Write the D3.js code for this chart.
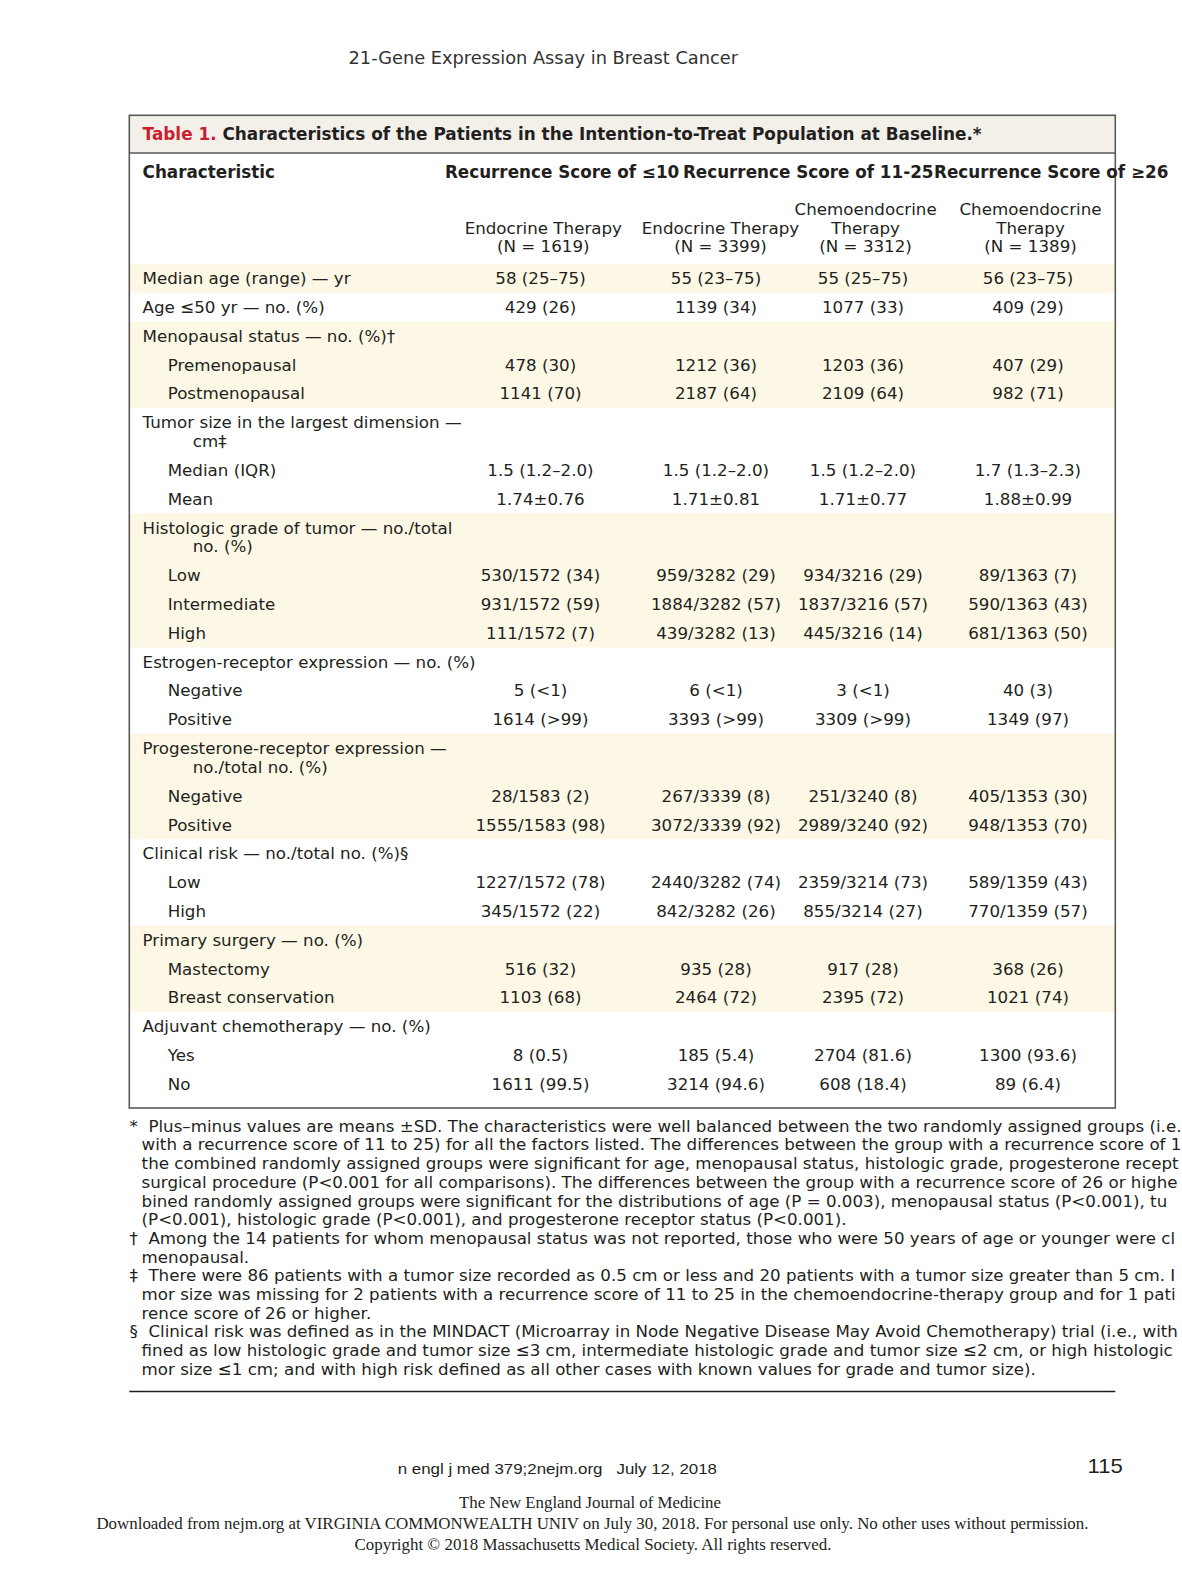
<!DOCTYPE html>
<html><head><meta charset="utf-8">
<script src="https://cdn.jsdelivr.net/npm/d3@7"></script>
<style>
html,body{margin:0;padding:0;background:#fff;overflow:hidden}
svg{display:block}
text{font-family:"DejaVu Sans",sans-serif;fill:#231f20}
</style></head><body><svg id="c" width="1182" height="1575"></svg>
<script>
// ---------- data ----------
const runningHead = "21-Gene Expression Assay in Breast Cancer";
const tableTitleLabel = "Table 1.";
const tableTitle = "Characteristics of the Patients in the Intention-to-Treat Population at Baseline.*";
const stubHeader = "Characteristic";
const groupHeaders = ["Recurrence Score of ≤10", "Recurrence Score of 11-25", "Recurrence Score of ≥26"];
const columnHeaders = [
  ["Endocrine Therapy", "(N = 1619)"],
  ["Endocrine Therapy", "(N = 3399)"],
  ["Chemoendocrine", "Therapy", "(N = 3312)"],
  ["Chemoendocrine", "Therapy", "(N = 1389)"]
];
const rowLabels = [
  ["Median age (range) — yr"], ["Age ≤50 yr — no. (%)"], ["Menopausal status — no. (%)†"],
  ["Premenopausal"], ["Postmenopausal"],
  ["Tumor size in the largest dimension —", "cm‡"], ["Median (IQR)"], ["Mean"],
  ["Histologic grade of tumor — no./total", "no. (%)"], ["Low"], ["Intermediate"], ["High"],
  ["Estrogen-receptor expression — no. (%)"], ["Negative"], ["Positive"],
  ["Progesterone-receptor expression —", "no./total no. (%)"], ["Negative"], ["Positive"],
  ["Clinical risk — no./total no. (%)§"], ["Low"], ["High"],
  ["Primary surgery — no. (%)"], ["Mastectomy"], ["Breast conservation"],
  ["Adjuvant chemotherapy — no. (%)"], ["Yes"], ["No"]
];
const rowLevels = [0,0,0,1,1,0,1,1,0,1,1,1,0,1,1,0,1,1,0,1,1,0,1,1,0,1,1];
const rowShaded = [1,0,1,1,1,0,0,0,1,1,1,1,0,0,0,1,1,1,0,0,0,1,1,1,0,0,0];
const lowScoreEndocrine = ["58 (25–75)","429 (26)","","478 (30)","1141 (70)","","1.5 (1.2–2.0)","1.74±0.76","","530/1572 (34)","931/1572 (59)","111/1572 (7)","","5 (<1)","1614 (>99)","","28/1583 (2)","1555/1583 (98)","","1227/1572 (78)","345/1572 (22)","","516 (32)","1103 (68)","","8 (0.5)","1611 (99.5)"];
const midScoreEndocrine = ["55 (23–75)","1139 (34)","","1212 (36)","2187 (64)","","1.5 (1.2–2.0)","1.71±0.81","","959/3282 (29)","1884/3282 (57)","439/3282 (13)","","6 (<1)","3393 (>99)","","267/3339 (8)","3072/3339 (92)","","2440/3282 (74)","842/3282 (26)","","935 (28)","2464 (72)","","185 (5.4)","3214 (94.6)"];
const midScoreChemo = ["55 (25–75)","1077 (33)","","1203 (36)","2109 (64)","","1.5 (1.2–2.0)","1.71±0.77","","934/3216 (29)","1837/3216 (57)","445/3216 (14)","","3 (<1)","3309 (>99)","","251/3240 (8)","2989/3240 (92)","","2359/3214 (73)","855/3214 (27)","","917 (28)","2395 (72)","","2704 (81.6)","608 (18.4)"];
const highScoreChemo = ["56 (23–75)","409 (29)","","407 (29)","982 (71)","","1.7 (1.3–2.3)","1.88±0.99","","89/1363 (7)","590/1363 (43)","681/1363 (50)","","40 (3)","1349 (97)","","405/1353 (30)","948/1353 (70)","","589/1359 (43)","770/1359 (57)","","368 (26)","1021 (74)","","1300 (93.6)","89 (6.4)"];
const footnoteSymbols = ["*", "†", "‡", "§"];
const footnoteLines = [
  ["Plus–minus values are means ±SD. The characteristics were well balanced between the two randomly assigned groups (i.e., those",
   "with a recurrence score of 11 to 25) for all the factors listed. The differences between the group with a recurrence score of 10 or lower and",
   "the combined randomly assigned groups were significant for age, menopausal status, histologic grade, progesterone receptor status, and",
   "surgical procedure (P<0.001 for all comparisons). The differences between the group with a recurrence score of 26 or higher and the com-",
   "bined randomly assigned groups were significant for the distributions of age (P = 0.003), menopausal status (P<0.001), tumor size",
   "(P<0.001), histologic grade (P<0.001), and progesterone receptor status (P<0.001)."],
  ["Among the 14 patients for whom menopausal status was not reported, those who were 50 years of age or younger were classified as pre-",
   "menopausal."],
  ["There were 86 patients with a tumor size recorded as 0.5 cm or less and 20 patients with a tumor size greater than 5 cm. Information on tu-",
   "mor size was missing for 2 patients with a recurrence score of 11 to 25 in the chemoendocrine-therapy group and for 1 patient with a recur-",
   "rence score of 26 or higher."],
  ["Clinical risk was defined as in the MINDACT (Microarray in Node Negative Disease May Avoid Chemotherapy) trial (i.e., with low risk de-",
   "fined as low histologic grade and tumor size ≤3 cm, intermediate histologic grade and tumor size ≤2 cm, or high histologic grade and tu-",
   "mor size ≤1 cm; and with high risk defined as all other cases with known values for grade and tumor size)."]
];
const footerCitation = "n engl j med 379;2nejm.org   July 12, 2018";
const pageNumber = "115";
const footerJournal = "The New England Journal of Medicine";
const footerDownload = "Downloaded from nejm.org at VIRGINIA COMMONWEALTH UNIV on July 30, 2018. For personal use only. No other uses without permission.";
const footerCopyright = "Copyright © 2018 Massachusetts Medical Society. All rights reserved.";

// ---------- layout ----------
const W = 1182;
const svg = d3.select("#c");
const FS = 16.7, FSB = 16.8, FST = 16.88, FSN = 16.68;
const box = {x0: 129.3, x1: 1115.3, y0: 115.3, y1: 1108, band: 153};
const dark = "#231f20";
const colKeys = [0, 1, 2, 3];
const values = [lowScoreEndocrine, midScoreEndocrine, midScoreChemo, highScoreChemo];
const headX = d3.scaleOrdinal().domain(colKeys).range([543.3, 720.5, 865.6, 1030.5]);
const valX = d3.scaleOrdinal().domain(colKeys).range([540.5, 716, 863, 1028]);
const indentX = d3.scaleOrdinal().domain([0, 1, 2]).range([142.6, 167.7, 192.8]);

const rowPitch = 28.8, linePitch = 18.9;
const heights = rowLabels.map(l => rowPitch + linePitch * (l.length - 1));
const tops = [0, ...d3.cumsum(heights)].slice(0, heights.length);
const y = d3.scaleLinear().domain([0, 1]).range([263.8, 264.8]); // row offset -> pixels
const dy = FS * 0.36;

// running head
svg.append("text").attr("x", 348.5).attr("y", 57.5 + 6.4)
  .attr("font-size", 17.8).style("fill", "#333").text(runningHead);

// title band
svg.append("rect").attr("x", box.x0).attr("y", box.y0)
  .attr("width", box.x1 - box.x0).attr("height", box.band - box.y0).attr("fill", "#f3f0ea");

// shaded rows
svg.append("g").selectAll("rect").data(rowLabels.map((d, i) => i).filter(i => rowShaded[i]))
  .join("rect")
  .attr("x", box.x0).attr("width", box.x1 - box.x0)
  .attr("y", i => y(tops[i])).attr("height", i => heights[i] + 0.3)
  .attr("fill", "#fdf8e6");

// box + band line
svg.append("rect").attr("x", box.x0).attr("y", box.y0)
  .attr("width", box.x1 - box.x0).attr("height", box.y1 - box.y0)
  .attr("fill", "none").attr("stroke", "#58595b").attr("stroke-width", 1.6);
svg.append("line").attr("x1", box.x0).attr("x2", box.x1).attr("y1", box.band).attr("y2", box.band)
  .attr("stroke", "#58595b").attr("stroke-width", 1.4);

// title
const t = svg.append("text").attr("x", 142.6).attr("y", 133.6 + dy)
  .attr("font-size", FST).attr("font-weight", "bold");
t.append("tspan").style("fill", "#c8202f").text(tableTitleLabel + " ");
t.append("tspan").text(tableTitle);

// header row
svg.append("text").attr("x", 142.6).attr("y", 171.7 + dy).attr("font-size", FSB)
  .attr("font-weight", "bold").text(stubHeader);
const groupX = [444.9, 682.9, 934];
svg.append("g").selectAll("text").data(groupHeaders).join("text")
  .attr("x", (d, i) => groupX[i]).attr("y", 171.7 + dy)
  .attr("font-size", FSB).attr("font-weight", "bold").text(d => d);

// column headers (bottom aligned)
const subBottom = 246.3, subPitch = 18.7;
colKeys.forEach(k => {
  const lines = columnHeaders[k];
  svg.append("g").selectAll("text").data(lines).join("text")
    .attr("x", headX(k)).attr("text-anchor", "middle")
    .attr("y", (d, i) => subBottom - (lines.length - 1 - i) * subPitch + dy)
    .attr("font-size", FS).text(d => d);
});

// row labels
const rows = svg.append("g").selectAll("g").data(rowLabels).join("g");
rows.each(function(lines, i) {
  d3.select(this).selectAll("text").data(lines).join("text")
    .attr("x", (d, j) => indentX(j === 0 ? rowLevels[i] : rowLevels[i] + 2))
    .attr("y", (d, j) => y(tops[i]) + rowPitch / 2 + j * linePitch + dy)
    .attr("font-size", FS).text(d => d);
});

// values
colKeys.forEach(k => {
  svg.append("g").selectAll("text").data(values[k]).join("text")
    .attr("x", valX(k)).attr("text-anchor", "middle")
    .attr("y", (d, i) => y(tops[i]) + rowPitch / 2 + dy)
    .attr("font-size", FS).text(d => d);
});

// footnotes (the printed page is cut at the right edge: keep what fits)
function clipToPage(sel, x) {
  const node = sel.node();
  let s = sel.text();
  while (s.length && x + node.getComputedTextLength() > W - 0.5) {
    s = s.slice(0, -1);
    sel.text(s);
  }
}
const fnTop = 1125.7, fnPitch = 18.7;
let lineIdx = 0;
footnoteLines.forEach((lines, f) => {
  svg.append("text").attr("x", 129.5).attr("y", fnTop + lineIdx * fnPitch + dy)
    .attr("font-size", FSN).text(footnoteSymbols[f]);
  lines.forEach((ln, j) => {
    const x = j === 0 ? 148.4 : 141.6;
    const tx = svg.append("text").attr("x", x)
      .attr("y", fnTop + lineIdx * fnPitch + dy)
      .attr("font-size", FSN).text(ln);
    clipToPage(tx, x);
    lineIdx++;
  });
});

// bottom rule
svg.append("line").attr("x1", box.x0).attr("x2", box.x1).attr("y1", 1391.5).attr("y2", 1391.5)
  .attr("stroke", dark).attr("stroke-width", 1.5);

// page footer
function fitText(str, x0, x1, yc, size, family) {
  svg.append("text").attr("x", x0).attr("y", yc + size * 0.35)
    .attr("font-size", size).style("font-family", family)
    .attr("textLength", x1 - x0).attr("lengthAdjust", "spacingAndGlyphs")
    .style("white-space", "pre").text(str);
}
fitText(footerCitation, 397.7, 717, 1469, 15.5, '"Liberation Sans Narrow","Liberation Sans",sans-serif');
fitText(pageNumber, 1087.5, 1122.7, 1466, 21, '"Liberation Sans Narrow","Liberation Sans",sans-serif');
fitText(footerJournal, 459, 721, 1502, 16, '"Liberation Serif",serif');
fitText(footerDownload, 96.4, 1088.5, 1523, 16, '"Liberation Serif",serif');
fitText(footerCopyright, 354.5, 831.5, 1544.5, 16, '"Liberation Serif",serif');
</script></body></html>
